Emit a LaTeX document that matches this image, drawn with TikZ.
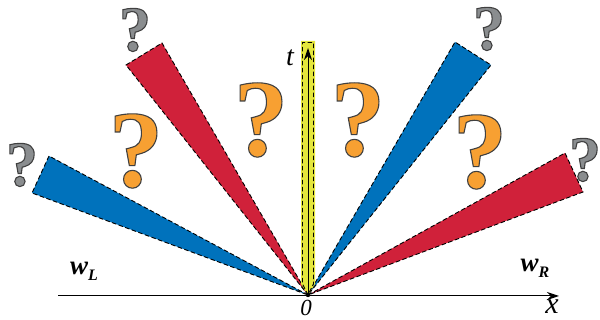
\documentclass[tikz,border=0pt]{standalone}
\usepackage{fontspec}
\setmainfont{Liberation Serif}
\usetikzlibrary{arrows.meta}
\definecolor{wblue}{RGB}{0,114,188}
\definecolor{wred}{RGB}{208,33,58}
\definecolor{wyellow}{RGB}{228,230,60}
\definecolor{qorange}{RGB}{247,160,50}
\definecolor{qgrey}{RGB}{138,141,143}
\newcommand\qmark[2]{{\color{#1}\fontsize{#2}{#2}\selectfont\bfseries\special{pdf:literal direct 2 Tr 0.25 0.25 0.25 RG 1.1 w}?\special{pdf:literal direct 0 Tr}}}
\tikzset{
  wedge/.style={draw=black, dash pattern=on 4.5pt off 2.5pt, line width=0.9pt},
  axis/.style={line width=1pt, -{Stealth[length=12pt,width=8pt]}},
  qm/.style={inner sep=0pt},
  lbl/.style={inner sep=0pt}
}
\begin{document}
\begin{tikzpicture}[x=1pt,y=1pt]
\useasboundingbox (0,0) rectangle (600,320);
\coordinate (O) at (308,25);
% wedges
\fill[wblue] (O) -- (49,164) -- (32,127) -- cycle;
\draw[wedge] (O) -- (49,164) -- (32,127) -- cycle;
\fill[wred] (O) -- (162,277) -- (126,255) -- cycle;
\draw[wedge] (O) -- (162,277) -- (126,255) -- cycle;
\fill[wblue] (O) -- (455,278) -- (491,255) -- cycle;
\draw[wedge] (O) -- (455,278) -- (491,255) -- cycle;
\fill[wred] (O) -- (565,167) -- (583,128) -- cycle;
\draw[wedge] (O) -- (565,167) -- (583,128) -- cycle;
\fill[wyellow] (O) -- (301,36) -- (301,279) -- (315,279) -- (315,36) -- cycle;
\draw[wedge] (O) -- (302.5,36) -- (302.5,277.5) -- (313.5,277.5) -- (313.5,36) -- cycle;
% axes
\coordinate (xa) at (58,24);
\coordinate (xb) at (559,24);
\coordinate (tb) at (308,272);
\draw[axis] (xa) -- (xb);
\draw[axis] (O) -- (tb);
\fill (O) circle (2.2pt);
% labels
\node[lbl, font=\itshape\fontsize{28}{28}\selectfont] (t) at (290,262) {t};
\node[lbl, font=\itshape\fontsize{23}{23}\selectfont] (zero) at (306,12) {0};
\node[lbl, font=\itshape\fontsize{30}{30}\selectfont] (x) at (552,13) {x};
\node[lbl, font=\bfseries\itshape\fontsize{27}{27}\selectfont] (wL) at (84,49) {w\raisebox{-0.5ex}{\fontsize{16}{16}\selectfont L}};
\node[lbl, font=\bfseries\itshape\fontsize{27}{27}\selectfont] (wR) at (535,52) {w\raisebox{-0.5ex}{\fontsize{16}{16}\selectfont R}};
% question marks
\node[qm] (g1) at (22,155) {\qmark{qgrey}{64}};
\node[qm] (g2) at (135,290) {\qmark{qgrey}{64}};
\node[qm] (g3) at (489,291) {\qmark{qgrey}{64}};
\node[qm] (g4) at (585,160) {\qmark{qgrey}{64}};
\node[qm] (o1) at (136,169) {\qmark{qorange}{110}};
\node[qm] (o2) at (261,200) {\qmark{qorange}{110}};
\node[qm] (o3) at (358,200) {\qmark{qorange}{110}};
\node[qm] (o4) at (480,168) {\qmark{qorange}{110}};
\end{tikzpicture}
\end{document}
